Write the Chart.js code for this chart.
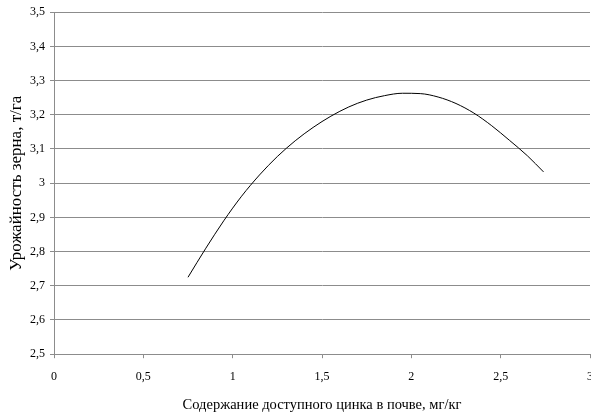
<!DOCTYPE html>
<html>
<head>
<meta charset="utf-8">
<script src="https://cdn.jsdelivr.net/npm/chart.js@4/dist/chart.umd.min.js"></script>
<style>
  html, body { margin: 0; padding: 0; background: #fff; }
  #wrap { width: 591px; height: 419px; }
</style>
</head>
<body>
<div id="wrap"><canvas id="myChart" width="591" height="419"></canvas></div>
<script>
// ----------- DATA ------------
const zinc_x = [0.75, 0.85, 0.95, 1.05, 1.15, 1.25, 1.35, 1.45, 1.55, 1.65, 1.75,
                1.85, 1.95, 2.05, 2.15, 2.25, 2.35, 2.45, 2.55, 2.65, 2.74];
const yield_y = [2.725, 2.81, 2.89, 2.962, 3.024, 3.078, 3.124, 3.163, 3.196, 3.223, 3.243,
                 3.256, 3.263, 3.262, 3.252, 3.233, 3.205, 3.168, 3.125, 3.08, 3.033];
const x_title = 'Содержание доступного цинка в почве, мг/кг';
const y_title = 'Урожайность зерна, т/га';

const points = zinc_x.map((x, i) => ({ x: x, y: yield_y[i] }));
const comma = v => String(Math.round(v * 10) / 10).replace('.', ',');
const GRID = '#8c8c8c';
const FONT = 'Liberation Serif';

// ----------- CHART ------------
new Chart(document.getElementById('myChart'), {
  type: 'scatter',
  data: {
    datasets: [{
      data: points,
      showLine: true,
      borderColor: '#000',
      borderWidth: 1,
      pointRadius: 0,
      cubicInterpolationMode: 'monotone',
      fill: false
    }]
  },
  options: {
    responsive: false,
    animation: false,
    layout: { padding: { top: 5, right: 1, left: 0, bottom: 1 } },
    plugins: { legend: { display: false }, tooltip: { enabled: false } },
    scales: {
      x: {
        type: 'linear', min: 0, max: 3,
        afterFit: s => { s.paddingRight = 0; },
        grid: { drawOnChartArea: false, drawTicks: true, tickLength: 4, color: GRID },
        border: { color: GRID },
        ticks: { stepSize: 0.5, color: '#000', font: { family: FONT, size: 12 }, padding: 11,
                 maxRotation: 0, callback: v => comma(v) },
        title: { display: true, text: x_title, color: '#000', font: { family: FONT, size: 14.5 }, padding: { top: 2 } }
      },
      y: {
        min: 2.5, max: 3.5,
        grid: { color: GRID, tickLength: 4 },
        border: { color: GRID },
        ticks: { stepSize: 0.1, color: '#000', font: { family: FONT, size: 12 }, padding: 5,
                 callback: v => comma(v) },
        title: { display: true, text: y_title, color: '#000', font: { family: FONT, size: 17, lineHeight: 1 },
                 padding: { top: 8, bottom: 0 } }
      }
    }
  }
});
</script>
</body>
</html>
